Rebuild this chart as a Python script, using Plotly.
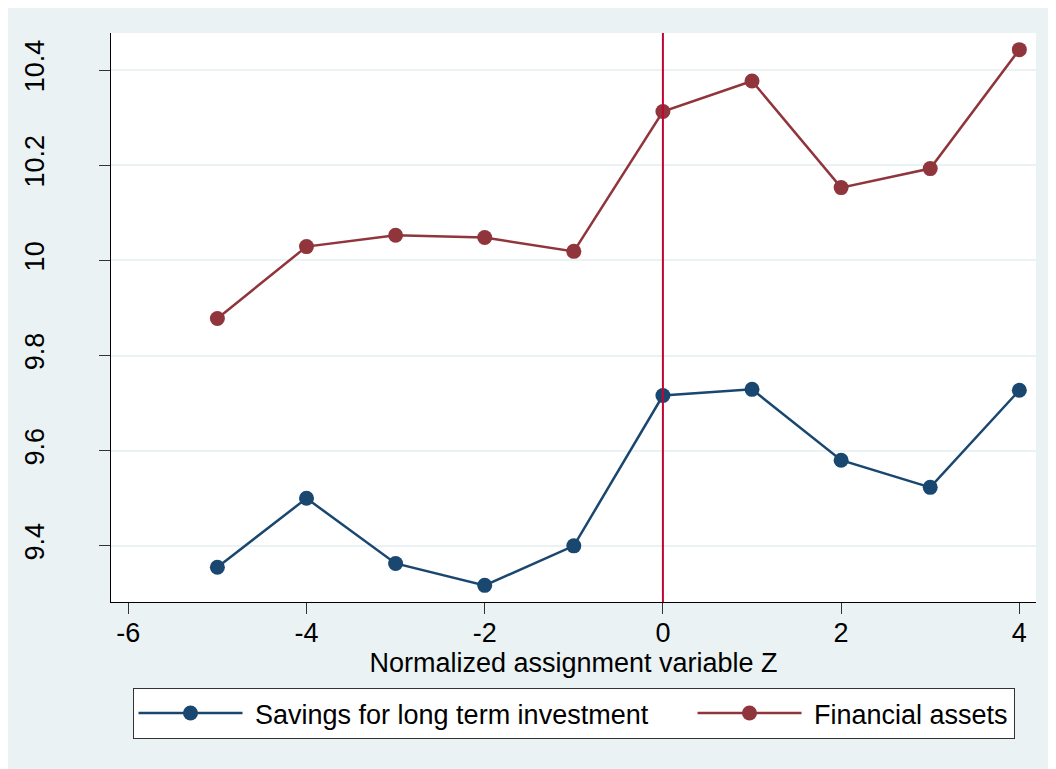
import plotly.graph_objects as go

z = [-5, -4, -3, -2, -1, 0, 1, 2, 3, 4]
savings = [9.355, 9.500, 9.363, 9.317, 9.400, 9.716, 9.729, 9.580, 9.523, 9.727]
financial = [9.878, 10.029, 10.053, 10.048, 10.019, 10.313, 10.377, 10.153, 10.193, 10.443]
x_ticks = [-6, -4, -2, 0, 2, 4]
x_tick_labels = ["-6", "-4", "-2", "0", "2", "4"]
y_ticks = [9.4, 9.6, 9.8, 10, 10.2, 10.4]
y_tick_labels = ["9.4", "9.6", "9.8", "10", "10.2", "10.4"]
cutoff = 0

NAVY = "#1A476F"
MAROON = "#90353B"
BG = "#EAF2F3"
FONT = "Liberation Sans, Arial, sans-serif"

# page body has an 8px margin, so the figure is drawn at offset (8, 8)
W, H = 1048, 761
L, R, T, B = 103, 20, 25, 167
ph = H - T - B

fig = go.Figure()
fig.add_trace(go.Scatter(x=z, y=savings, mode="lines+markers",
                         name="\u00a0Savings for long term investment", legendwidth=440,
                         line=dict(color=NAVY, width=2.5), marker=dict(color=NAVY, size=15)))
fig.add_trace(go.Scatter(x=z, y=financial, mode="lines+markers",
                         name="\u00a0Financial assets",
                         line=dict(color=MAROON, width=2.5), marker=dict(color=MAROON, size=15)))

fig.add_shape(type="line", xref="x", yref="paper", x0=cutoff, x1=cutoff, y0=0, y1=1,
              line=dict(color="#C10534", width=2), layer="above")

fig.update_layout(
    width=W, height=H,
    margin=dict(l=L, r=R, t=T, b=B),
    paper_bgcolor=BG, plot_bgcolor="white",
    font=dict(family=FONT, size=27, color="black"),
    showlegend=True,
    legend=dict(orientation="h", x=0.5, xanchor="center", y=-86 / ph, yanchor="top",
                bgcolor="white", bordercolor="#333333", borderwidth=1,
                font=dict(size=27), itemwidth=104, tracegroupgap=0),
    xaxis=dict(range=[-6.194, 4.187], tickvals=x_ticks, ticktext=x_tick_labels,
               showgrid=False, zeroline=False, automargin=False,
               showline=True, linecolor="black", linewidth=1,
               ticks="outside", ticklen=11, tickcolor="#333333", tickwidth=1,
               ticklabelstandoff=-4,
               title=dict(text="Normalized assignment variable Z", standoff=3, font=dict(size=27))),
    yaxis=dict(range=[9.282, 10.478], tickvals=y_ticks, ticktext=y_tick_labels, tickangle=-90,
               showgrid=True, gridcolor=BG, gridwidth=2, zeroline=False, automargin=False,
               showline=True, linecolor="black", linewidth=1,
               ticks="outside", ticklen=11, tickcolor="#333333", tickwidth=1,
               ticklabelstandoff=44),
)

fig.write_html("out.html")
